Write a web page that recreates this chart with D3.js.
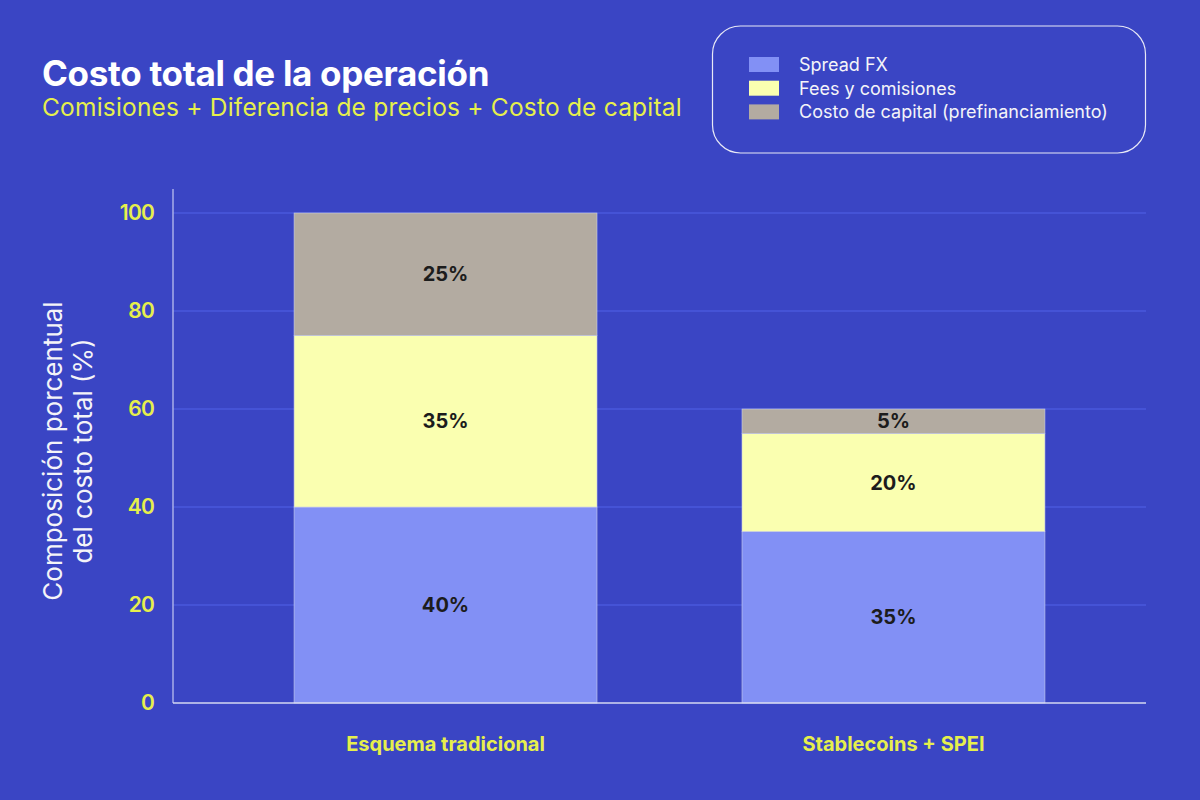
<!DOCTYPE html>
<html>
<head>
<meta charset="utf-8">
<script src="https://cdn.jsdelivr.net/npm/d3@7"></script>
<style>
  html, body { margin: 0; padding: 0; background: #3a45c4; }
  svg { display: block; font-family: Inter, "Noto Sans", sans-serif; }
</style>
</head>
<body>
<div id="chart"></div>
<script>
// data
const categories = ["Esquema tradicional", "Stablecoins + SPEI"];
const seriesNames = ["Spread FX", "Fees y comisiones", "Costo de capital (prefinanciamiento)"];
const spreadFX = [40, 35];
const fees = [35, 20];
const capital = [25, 5];
const yTicks = [0, 20, 40, 60, 80, 100];
const colors = ["#8290f5", "#faffb0", "#b3aba1"];

const width = 1200;
const height = 800;
const plot = { left: 173, right: 1146, top: 213, bottom: 703 };

const rows = categories.map((c, i) => ({
  category: c,
  "Spread FX": spreadFX[i],
  "Fees y comisiones": fees[i],
  "Costo de capital (prefinanciamiento)": capital[i]
}));
const stacked = d3.stack().keys(seriesNames)(rows);

const svg = d3.select("#chart")
  .append("svg")
  .attr("width", width)
  .attr("height", height);

svg.append("rect")
  .attr("width", width)
  .attr("height", height)
  .attr("fill", "#3a45c4");

const x = d3.scaleBand()
  .domain(categories)
  .range([221.5, 1117.5])
  .paddingInner(0.3237)
  .paddingOuter(0.162);

const y = d3.scaleLinear()
  .domain([0, 100])
  .range([plot.bottom, plot.top]);

// gridlines
svg.append("g")
  .selectAll("line")
  .data(yTicks.filter(d => d > 0))
  .join("line")
  .attr("x1", plot.left)
  .attr("x2", plot.right)
  .attr("y1", d => y(d))
  .attr("y2", d => y(d))
  .attr("stroke", "#5162e8")
  .attr("stroke-width", 1.2);

// bars
const layer = svg.append("g")
  .selectAll("g")
  .data(stacked)
  .join("g")
  .attr("fill", (d, i) => colors[i]);

layer.selectAll("rect")
  .data(d => d)
  .join("rect")
  .attr("x", d => x(d.data.category))
  .attr("width", x.bandwidth())
  .attr("y", d => y(d[1]))
  .attr("height", d => y(d[0]) - y(d[1]))
  .attr("stroke", "#c9cde8")
  .attr("stroke-width", 0.6);

// segment labels
layer.selectAll("text")
  .data(d => d)
  .join("text")
  .attr("x", d => x(d.data.category) + x.bandwidth() / 2)
  .attr("y", d => (y(d[0]) + y(d[1])) / 2)
  .attr("dy", "0.36em")
  .attr("text-anchor", "middle")
  .attr("font-size", 20)
  .attr("font-weight", 700)
  .attr("fill", "#1c1c1c")
  .text(d => (d[1] - d[0]) + "%");

// axes
const yAxis = svg.append("g")
  .attr("transform", `translate(${plot.left},0)`)
  .call(d3.axisLeft(y).tickValues(yTicks).tickSize(0).tickPadding(19));
yAxis.select(".domain").remove();
yAxis.selectAll("text")
  .attr("font-size", 21)
  .attr("font-weight", 600)
  .attr("letter-spacing", -0.8)
  .attr("fill", "#e6ef4c")
  .attr("font-family", "Inter, sans-serif");

svg.append("line")
  .attr("x1", plot.left).attr("x2", plot.left)
  .attr("y1", 189).attr("y2", plot.bottom)
  .attr("stroke", "#a9aee8").attr("stroke-width", 1.5);

const xAxis = svg.append("g")
  .attr("transform", `translate(0,${plot.bottom})`)
  .call(d3.axisBottom(x).tickSize(0).tickPadding(34));
xAxis.select(".domain").remove();
xAxis.selectAll("text")
  .attr("font-size", 20)
  .attr("font-weight", 700)
  .attr("fill", "#e6ef4c")
  .attr("font-family", "Inter, sans-serif");

svg.append("line")
  .attr("x1", plot.left).attr("x2", plot.right)
  .attr("y1", plot.bottom).attr("y2", plot.bottom)
  .attr("stroke", "#d5d8f2").attr("stroke-width", 1.5);

// y axis title
const yTitle = svg.append("text")
  .attr("transform", "translate(0,451) rotate(-90)")
  .attr("text-anchor", "middle")
  .attr("font-size", 26)
  .attr("fill", "#f4f4f8");
yTitle.append("tspan").attr("x", 0).attr("y", 62).text("Composición porcentual");
yTitle.append("tspan").attr("x", 0).attr("y", 92).text("del costo total (%)");

// title
svg.append("text")
  .attr("x", 42).attr("y", 86)
  .attr("font-size", 35)
  .attr("font-weight", 700)
  .attr("letter-spacing", -0.3)
  .attr("fill", "#ffffff")
  .text("Costo total de la operación");

svg.append("text")
  .attr("x", 42).attr("y", 116)
  .attr("font-size", 24.5)
  .attr("letter-spacing", 0.2)
  .attr("fill", "#e6ef4c")
  .text("Comisiones + Diferencia de precios + Costo de capital");

// legend
const legend = svg.append("g");
legend.append("rect")
  .attr("x", 712.5).attr("y", 26)
  .attr("width", 433).attr("height", 127)
  .attr("rx", 28)
  .attr("fill", "none")
  .attr("stroke", "#e8e9f6")
  .attr("stroke-width", 1.2);

const item = legend.selectAll("g")
  .data(seriesNames)
  .join("g")
  .attr("transform", (d, i) => `translate(749,${57 + i * 23.7})`);

item.append("rect")
  .attr("width", 30).attr("height", 15)
  .attr("fill", (d, i) => colors[i]);

item.append("text")
  .attr("x", 50).attr("y", 14)
  .attr("font-size", 18)
  .attr("fill", "#f4f4f8")
  .text(d => d);
</script>
</body>
</html>
